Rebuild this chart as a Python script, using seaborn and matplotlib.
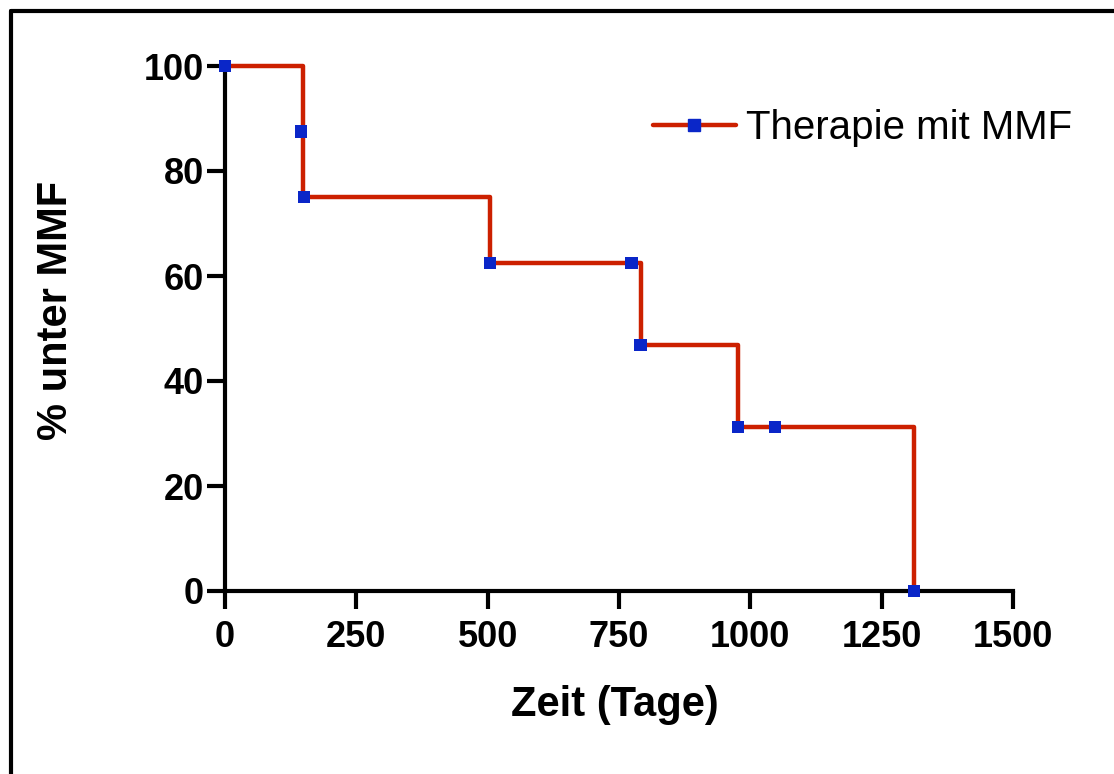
import matplotlib
matplotlib.use("Agg")
import matplotlib.pyplot as plt
from matplotlib.lines import Line2D
import seaborn as sns
import pandas as pd

# Step curve (Kaplan-Meier)
step_days = [0, 148, 504, 791, 977, 1312]
step_pct = [100, 75, 62.5, 46.875, 31.25, 0]

# Marker points
point_days = [0, 145, 150, 504, 774, 791, 977, 1047, 1312]
point_pct = [100, 87.5, 75, 62.5, 62.5, 46.875, 31.25, 31.25, 0]

x_ticks = [0, 250, 500, 750, 1000, 1250, 1500]
y_ticks = [0, 20, 40, 60, 80, 100]

series_label = "Therapie mit MMF"
x_label = "Zeit (Tage)"
y_label = "% unter MMF"

RED = "#cc2000"
BLUE = "#0a26c8"

sns.set_theme(style="white")
plt.rcParams['font.family'] = ['Liberation Sans', 'DejaVu Sans']
plt.rcParams['text.color'] = 'black'

fig = plt.figure(figsize=(11.14, 7.74), dpi=100)
ax = fig.add_axes([225/1114, 1-591/774, (1013-225)/1114, (591-66)/774])

df_step = pd.DataFrame({"day": step_days, "pct": step_pct})
df_pts = pd.DataFrame({"day": point_days, "pct": point_pct})

sns.lineplot(data=df_step, x="day", y="pct", ax=ax, color=RED, linewidth=3.2,
             drawstyle="steps-post", clip_on=False, zorder=3)
sns.scatterplot(data=df_pts, x="day", y="pct", ax=ax, color=BLUE, marker="s",
                s=80, edgecolor="none", clip_on=False, zorder=4)

ax.set_xlim(0, 1500)
ax.set_ylim(0, 100)
ax.set_xticks(x_ticks)
ax.set_yticks(y_ticks)

for s in ["top", "right"]:
    ax.spines[s].set_visible(False)
for s in ["left", "bottom"]:
    ax.spines[s].set_linewidth(3)
    ax.spines[s].set_color("black")

ax.tick_params(axis="both", direction="out", length=13, width=3, color="black",
               labelsize=26, labelcolor="black", bottom=True, left=True)
ax.tick_params(axis="y", pad=2)
ax.tick_params(axis="x", pad=8)
for lab in ax.get_xticklabels() + ax.get_yticklabels():
    lab.set_fontweight("bold")

ax.set_xlabel(x_label, fontsize=30, fontweight="bold", color="black", va="center")
ax.set_ylabel(y_label, fontsize=30, fontweight="bold", color="black", va="center")
ax.xaxis.set_label_coords(0.495, (591-705)/525)
ax.yaxis.set_label_coords((56-225)/788, (591-310)/525)

handle = Line2D([], [], color=RED, linewidth=3.2, marker="s", markersize=8.5,
                markerfacecolor=BLUE, markeredgecolor=BLUE)
leg = ax.legend([handle], [series_label], loc="center left",
                bbox_to_anchor=(653/1114, 1-128/774), bbox_transform=fig.transFigure,
                frameon=False, fontsize=29, handlelength=2.05, handletextpad=0.25,
                borderpad=0, borderaxespad=0, labelcolor="black")

# outer frame (left and top edges)
fig.add_artist(Line2D([11/1114, 11/1114], [0, 1-11/774], transform=fig.transFigure,
                      color="black", linewidth=3))
fig.add_artist(Line2D([11/1114, 1], [1-11/774, 1-11/774], transform=fig.transFigure,
                      color="black", linewidth=3))

fig.savefig("out.png", dpi=100, facecolor="white")
